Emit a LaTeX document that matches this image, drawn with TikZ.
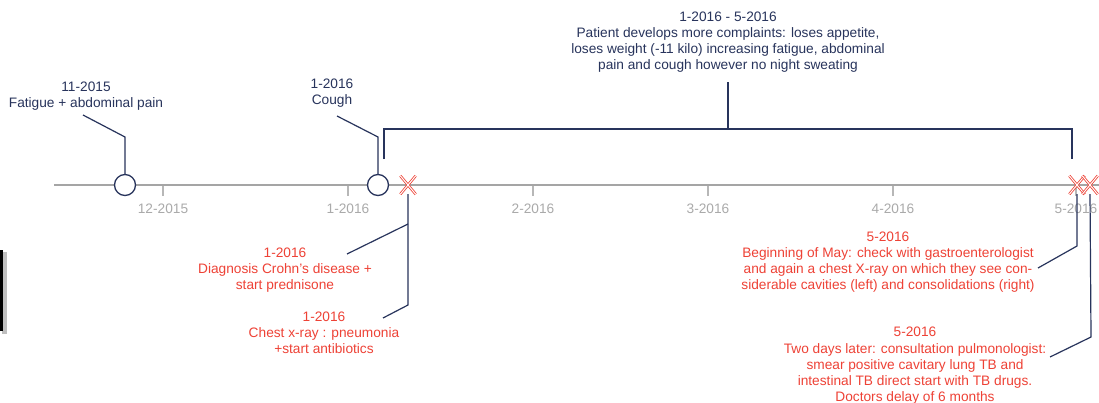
\documentclass[tikz,border=0pt]{standalone}
\usepackage{fontspec}
\setmainfont{Liberation Sans}
\definecolor{navy}{RGB}{40,52,92}
\definecolor{axisgrey}{RGB}{165,165,165}
\definecolor{ticklab}{RGB}{170,170,170}
\definecolor{evred}{RGB}{238,66,54}
\tikzset{
  txt/.style={align=center, inner sep=0pt, font=\fontsize{13.7}{16.2}\selectfont},
  navytxt/.style={txt, text=navy},
  redtxt/.style={txt, text=evred},
  ticktxt/.style={txt, text=ticklab},
  leader/.style={draw=navy, line width=1.2pt},
  evcirc/.style={circle, draw=navy, fill=white, line width=1.3pt, minimum size=21pt, inner sep=0pt},
  evcross/.style={minimum width=15pt, minimum height=18pt, inner sep=0pt},
  axisline/.style={draw=axisgrey, line width=2pt},
  tickline/.style={draw=axisgrey!80, line width=1.6pt}
}
\newcommand{\drawcross}[1]{%
  \draw[evred, line width=2.6pt] (#1.north west) -- (#1.south east) (#1.north east) -- (#1.south west);
  \draw[white, line width=1.0pt] (#1.north west) -- (#1.south east) (#1.north east) -- (#1.south west);
}
\begin{document}
\begin{tikzpicture}[x=1pt,y=-1pt]
\useasboundingbox (0,0) rectangle (1099,402);
\fill[white] (0,0) rectangle (1099,402);
% left edge artifact
\fill[black!25] (2,252) rectangle (7,334);
\fill[black] (0,250) rectangle (3,331);

% axis
\coordinate (axL) at (54,185);
\coordinate (axR) at (1099,185);
\draw[axisline] (axL) -- (axR);

% ticks
\foreach \x/\lab/\nm in {163/12-2015/t1, 348/1-2016/t2, 533/2-2016/t3, 708/3-2016/t4, 893/4-2016/t5, 1076/5-2016/t6}{
  \coordinate (\nm a) at (\x,186);
  \coordinate (\nm b) at (\x,196);
  \draw[tickline] (\nm a) -- (\nm b);
  \node[ticktxt] (\nm lab) at (\x,209) {\lab};
}

% events above
\node[evcirc] (c1) at (125,185) {};
\node[evcirc] (c2) at (378,185) {};
\node[navytxt] (e1) at (86,96) {11-2015\\Fatigue + abdominal pain};
\node[navytxt] (e2) at (332,93) {1-2016\\Cough};
\coordinate (e1a) at (83,115);
\coordinate (e1b) at (125,137);
\coordinate (e2a) at (337,116);
\coordinate (e2b) at (378,137);
\draw[leader] (e1a) -- (e1b) -- (c1.north);
\draw[leader] (e2a) -- (e2b) -- (c2.north);

% bracket
\coordinate (bl) at (384,159);
\coordinate (bt) at (384,129);
\coordinate (brt) at (1072,129);
\coordinate (br) at (1072,159);
\coordinate (bm) at (728,129);
\coordinate (bmt) at (728,82);
\draw[leader] (bl) -- (bt) -- (brt) -- (br);
\draw[leader] (bm) -- (bmt);
\node[navytxt] (top) at (728,42) {1-2016 - 5-2016\\Patient develops more complaints: loses appetite,\\loses weight (-11 kilo) increasing fatigue, abdominal\\pain and cough however no night sweating};

% crosses
\node[evcross] (x1) at (408,185) {};
\node[evcross] (x2) at (1077,185) {};
\node[evcross] (x3) at (1090,185) {};

% leaders below
\coordinate (l1a) at (408,224);
\coordinate (l1b) at (408,305);
\coordinate (d1) at (347,254);
\coordinate (d2) at (383,318);
\draw[leader] (x1.south) -- (l1b) -- (d2);
\draw[leader] (l1a) -- (d1);

\coordinate (r1a) at (1077,246);
\coordinate (r1b) at (1038,268);
\coordinate (r2a) at (1091,337);
\coordinate (r2b) at (1050,357);
\draw[leader] (x2.south) -- (r1a) -- (r1b);
\draw[leader] (x3.south) -- (r2a) -- (r2b);

\drawcross{x1}
\drawcross{x2}
\drawcross{x3}

% red texts
\node[redtxt] (n1) at (285,270) {1-2016\\Diagnosis Crohn's disease +\\start prednisone};
\node[redtxt] (n2) at (324,333) {1-2016\\Chest x-ray : pneumonia\\+start antibiotics};
\node[redtxt] (n3) at (888,262) {5-2016\\Beginning of May: check with gastroenterologist\\and again a chest X-ray on which they see con-\\siderable cavities (left) and consolidations (right)};
\node[redtxt] (n4) at (915,366) {5-2016\\Two days later: consultation pulmonologist:\\smear positive cavitary lung TB and\\intestinal TB direct start with TB drugs.\\Doctors delay of 6 months};
\end{tikzpicture}
\end{document}
